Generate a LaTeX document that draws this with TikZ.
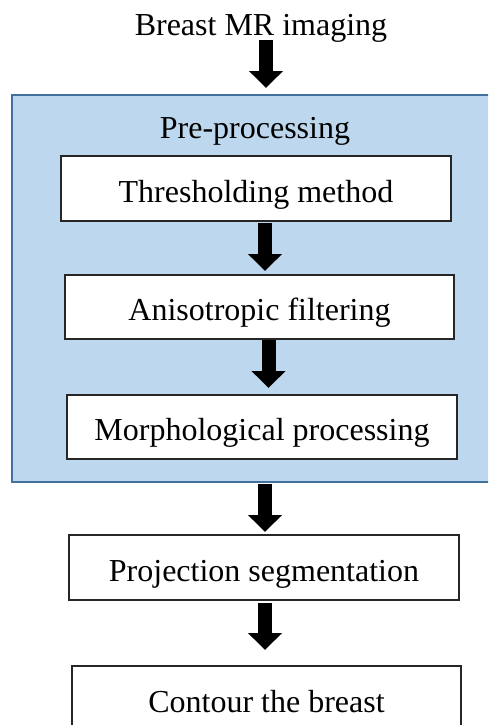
\documentclass[tikz,border=0pt]{standalone}
\usepackage{fontspec}
\setmainfont{Liberation Serif}
\usetikzlibrary{arrows.meta}
\definecolor{prefill}{HTML}{BDD7EE}
\definecolor{predraw}{HTML}{41719C}
\tikzset{
  stepbox/.style={draw=black!85, line width=1.2pt, fill=white, anchor=north west,
    inner sep=0pt, outer sep=0pt, text height=31pt, text depth=4pt},
  prebg/.style={draw=predraw, line width=2.5pt, fill=prefill, anchor=north west, inner sep=0pt, outer sep=0pt},
  txt/.style={inner sep=0pt, outer sep=0pt, anchor=base},
  barrow/.style={line width=14pt, line cap=butt, -{Triangle[length=17pt,width=33pt]}}
}
\begin{document}
\begin{tikzpicture}[x=1pt,y=-1pt,font=\fontsize{32}{38}\selectfont]
\useasboundingbox (0,0) rectangle (488,725);
\clip (0,0) rectangle (488,725);
\node[txt] (title) at (261,36) {Breast MR imaging};
\node[prebg, minimum width=480pt, minimum height=387pt] (pre) at (12,95) {};
\node[txt] (pretitle) at (255,138) {Pre-processing};
\node[stepbox, minimum width=390pt, minimum height=65pt] (b1) at (61,156) {Thresholding method};
\node[stepbox, minimum width=389pt, minimum height=64pt] (b2) at (65,275) {Anisotropic filtering};
\node[stepbox, minimum width=390pt, minimum height=64pt] (b3) at (67,395) {Morphological processing};
\node[stepbox, minimum width=390pt, minimum height=65pt] (b4) at (69,535) {Projection segmentation};
\node[stepbox, minimum width=389pt, minimum height=65pt] (b5) at (72,666) {Contour the breast};
\draw[barrow] ([xshift=5pt,yshift=3pt]title.south) -- ([xshift=14pt,yshift=7pt]pre.north);
\draw[barrow] ([xshift=9pt,yshift=-2pt]b1.south) -- ([xshift=5.5pt,yshift=4pt]b2.north);
\draw[barrow] ([xshift=9pt,yshift=-1pt]b2.south) -- ([xshift=6.5pt,yshift=7pt]b3.north);
\draw[barrow] ([xshift=13pt,yshift=-2pt]pre.south) -- ([xshift=1pt,yshift=3pt]b4.north);
\draw[barrow] ([xshift=1pt,yshift=-3pt]b4.south) -- ([xshift=-1.5pt,yshift=16pt]b5.north);
\end{tikzpicture}
\end{document}
